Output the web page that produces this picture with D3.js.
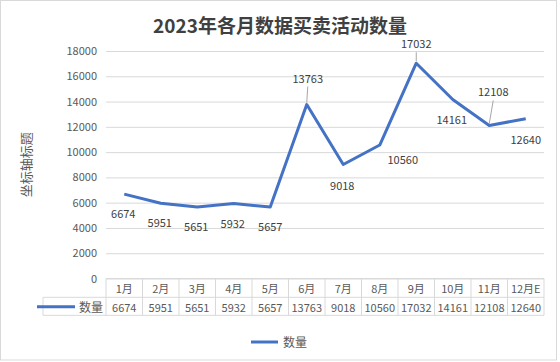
<!DOCTYPE html>
<html>
<head>
<meta charset="utf-8">
<script src="https://cdn.jsdelivr.net/npm/d3@7"></script>
<style>
  body { margin: 0; background: #fff; }
  text { font-family: "Noto Sans CJK SC", "Noto Sans", sans-serif; }
</style>
</head>
<body>
<div id="chart"></div>
<script>
// data
const months = ["1月", "2月", "3月", "4月", "5月", "6月", "7月", "8月", "9月", "10月", "11月", "12月E"];
const counts = [6674, 5951, 5651, 5932, 5657, 13763, 9018, 10560, 17032, 14161, 12108, 12640];
const yTicks = [0, 2000, 4000, 6000, 8000, 10000, 12000, 14000, 16000, 18000];
const seriesName = "数量";

// label placement (pixel offsets from the point), hand tuned like the excel original
const labelOffsets = [[-1, 19], [-1, 19], [-1, 19], [-1, 19], [0, 19], [1, -27],
                      [-1, 20], [23, 14], [0, -20], [-1, 19], [4, -34], [0, 20]];

const width = 560, height = 362;
const plotLeft = 106, plotRight = 544, plotTop = 51, plotBottom = 278.5;
const blue = "#4472c4", grey = "#595959", gridCol = "#d9d9d9";

let svg = d3.select("#chart").append("svg")
    .attr("width", width)
    .attr("height", height);

// outer border
svg.append("rect")
    .attr("x", 0.5).attr("y", 0.5)
    .attr("width", 556).attr("height", 359.5)
    .attr("fill", "#fff")
    .attr("stroke", gridCol);

let x = d3.scaleBand().domain(months).range([plotLeft, plotRight]);
let y = d3.scaleLinear().domain([0, 18000]).range([plotBottom, plotTop]);

// title
svg.append("text")
    .attr("x", 280).attr("y", 24)
    .attr("text-anchor", "middle")
    .attr("dominant-baseline", "central")
    .style("font-size", "19px")
    .style("font-weight", "bold")
    .attr("fill", "#404040")
    .text("2023年各月数据买卖活动数量");

// y axis + gridlines
let yAxis = svg.append("g")
    .attr("transform", `translate(${plotLeft},0)`)
    .call(d3.axisLeft(y).tickValues(yTicks).tickSize(-(plotRight - plotLeft)).tickPadding(9).tickFormat(d3.format("d")));
yAxis.select(".domain").remove();
yAxis.selectAll(".tick line").attr("stroke", gridCol);
yAxis.selectAll(".tick text")
    .attr("fill", grey)
    .style("font-size", "11px");

// axis title
svg.append("text")
    .attr("transform", `translate(25, ${(plotTop + plotBottom) / 2}) rotate(-90)`)
    .attr("text-anchor", "middle")
    .attr("dominant-baseline", "central")
    .style("font-size", "13px")
    .attr("fill", grey)
    .text("坐标轴标题");

// data table under the axis
let rowTop = plotBottom, rowMid = 297.3, rowBot = 315.3;
let table = svg.append("g");

table.selectAll("line.vert").data(d3.range(months.length + 1))
  .enter().append("line")
    .attr("class", "vert")
    .attr("x1", i => plotLeft + i * x.bandwidth())
    .attr("x2", i => plotLeft + i * x.bandwidth())
    .attr("y1", rowTop).attr("y2", rowBot)
    .attr("stroke", gridCol);

[[plotLeft, rowTop], [43, rowMid], [43, rowBot]].forEach(function(d) {
  table.append("line")
      .attr("x1", d[0]).attr("x2", plotRight)
      .attr("y1", d[1]).attr("y2", d[1])
      .attr("stroke", gridCol);
});
table.append("line")
    .attr("x1", 43).attr("x2", 43)
    .attr("y1", rowMid).attr("y2", rowBot)
    .attr("stroke", gridCol);

table.selectAll("text.month").data(months)
  .enter().append("text")
    .attr("class", "month")
    .attr("x", d => x(d) + x.bandwidth() / 2)
    .attr("y", (rowTop + rowMid) / 2 + 0.5)
    .attr("text-anchor", "middle")
    .attr("dominant-baseline", "central")
    .style("font-size", "11px")
    .attr("fill", grey)
    .text(d => d);

table.selectAll("text.val").data(counts)
  .enter().append("text")
    .attr("class", "val")
    .attr("x", (d, i) => x(months[i]) + x.bandwidth() / 2)
    .attr("y", (rowMid + rowBot) / 2 + 0.5)
    .attr("text-anchor", "middle")
    .attr("dominant-baseline", "central")
    .style("font-size", "11px")
    .attr("fill", grey)
    .text(d => d);

// legend key inside the table
table.append("line")
    .attr("x1", 37).attr("x2", 75)
    .attr("y1", 306.7).attr("y2", 306.7)
    .attr("stroke", blue).attr("stroke-width", 3);
table.append("text")
    .attr("x", 79).attr("y", 306.5)
    .attr("dominant-baseline", "central")
    .style("font-size", "12px")
    .attr("fill", grey)
    .text(seriesName);

// the line
let line = d3.line()
    .x((d, i) => x(months[i]) + x.bandwidth() / 2)
    .y(d => y(d));

svg.append("path")
    .datum(counts)
    .attr("d", line)
    .attr("fill", "none")
    .attr("stroke", blue)
    .attr("stroke-width", 3)
    .attr("stroke-linejoin", "round");

// leader lines for labels sitting far above
counts.forEach(function(d, i) {
  let off = labelOffsets[i];
  if (off[1] > -20 + 0.5 && off[1] !== -20) return;
  let px = x(months[i]) + x.bandwidth() / 2, py = y(d);
  svg.append("line")
      .attr("x1", px).attr("y1", py - 2)
      .attr("x2", px + off[0]).attr("y2", py + off[1] + 9)
      .attr("stroke", "#a6a6a6")
      .attr("stroke-width", 1);
});

// data labels
svg.selectAll("text.lbl").data(counts)
  .enter().append("text")
    .attr("class", "lbl")
    .attr("x", (d, i) => x(months[i]) + x.bandwidth() / 2 + labelOffsets[i][0])
    .attr("y", (d, i) => y(d) + labelOffsets[i][1])
    .attr("text-anchor", "middle")
    .attr("dominant-baseline", "central")
    .style("font-size", "11px")
    .attr("fill", "#404040")
    .text(d => d);

// bottom legend
svg.append("line")
    .attr("x1", 251).attr("x2", 278)
    .attr("y1", 342).attr("y2", 342)
    .attr("stroke", blue).attr("stroke-width", 3);
svg.append("text")
    .attr("x", 283).attr("y", 341)
    .attr("dominant-baseline", "central")
    .style("font-size", "12px")
    .attr("fill", grey)
    .text(seriesName);
</script>
</body>
</html>
